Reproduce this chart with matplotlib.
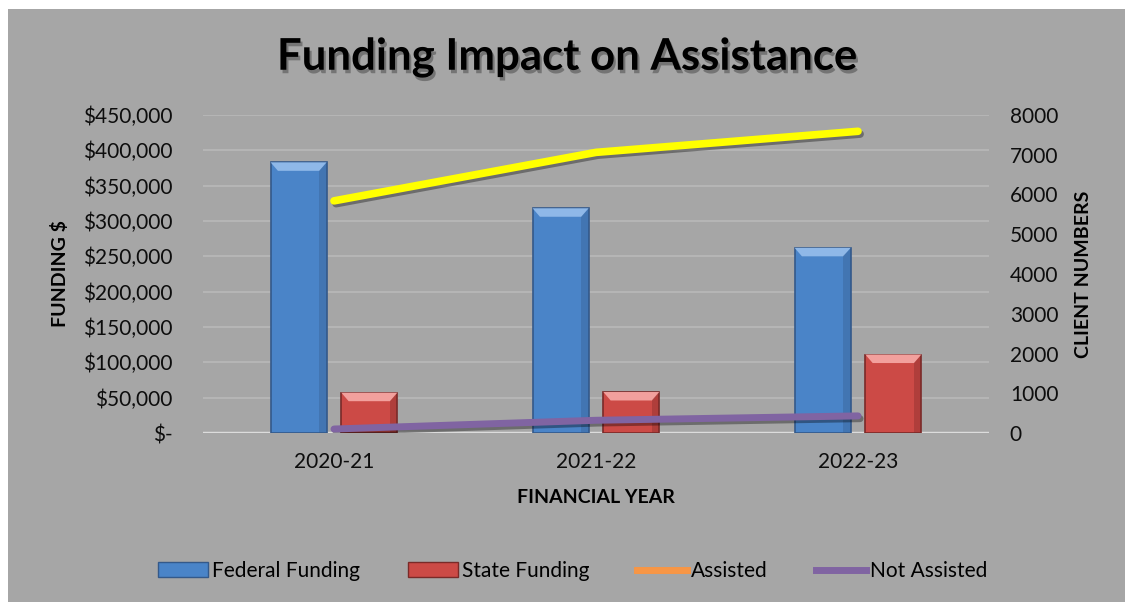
import numpy as np
import matplotlib
matplotlib.use("Agg")
import matplotlib.pyplot as plt
from matplotlib.patches import Rectangle, Polygon
from matplotlib.lines import Line2D
from matplotlib.ticker import FuncFormatter
import matplotlib.patheffects as pe

plt.rcParams['font.family'] = ['Lato', 'DejaVu Sans']

years = ["2020-21", "2021-22", "2022-23"]
federal = [383000, 318000, 262000]
state = [57000, 58000, 111000]
assisted = [5840, 7060, 7590]
not_assisted = [100, 320, 430]

BG = "#a6a6a6"
fed_c, fed_top, fed_edge = "#4a84c8", "#8fb8e8", "#34598a"
st_c, st_top, st_edge = "#cc4a46", "#f2a09d", "#7a2a28"

fig = plt.figure(figsize=(11.25, 6.02), dpi=100)
fig.patch.set_facecolor("white")
fig.patches.append(Rectangle((8/1125, 0), 1 - 8/1125, 1 - 9/602, transform=fig.transFigure,
                             facecolor=BG, edgecolor="none", zorder=-10))

ax = fig.add_axes([203/1125, 1 - 433/602, (989 - 203)/1125, (433 - 115)/602])
ax.set_facecolor(BG)
ax.patch.set_alpha(0)
ax2 = ax.twinx()

x = np.arange(len(years))
w = 0.214
off = 0.135
ax.set_xlim(-0.5, 2.5)
ax.set_ylim(0, 450000)
ax2.set_ylim(0, 8000)

for yv in np.arange(50000, 450001, 50000):
    ax.axhline(yv, color="#b9b9b9", lw=1.2, zorder=0)
ax.axhline(0, color="#dcdcdc", lw=2.5, zorder=1)

bev_x = 0.028
bev_y = 12000

def bevel_bars(xs, vals, c, ctop, cedge):
    bars = ax.bar(xs, vals, width=w, color=c, edgecolor=cedge, linewidth=1.2, zorder=2)
    for b in bars:
        x0, x1 = b.get_x(), b.get_x() + b.get_width()
        h = b.get_height()
        top = Polygon([(x0, h), (x1, h), (x1 - bev_x, h - bev_y), (x0 + bev_x, h - bev_y)],
                      closed=True, facecolor=ctop, edgecolor="none", zorder=3)
        ax.add_patch(top)
        side = Polygon([(x1, h), (x1, 0), (x1 - bev_x, 0), (x1 - bev_x, h - bev_y)],
                       closed=True, facecolor=cedge, alpha=0.35, edgecolor="none", zorder=3)
        ax.add_patch(side)
    return bars

bevel_bars(x - off, federal, fed_c, fed_top, fed_edge)
bevel_bars(x + off, state, st_c, st_top, st_edge)

shadow = [pe.SimpleLineShadow(offset=(1.5, -2), alpha=0.35), pe.Normal()]
ax2.plot(x, assisted, color="#ffff00", lw=5.5, solid_capstyle="round", zorder=5, path_effects=shadow)
ax2.plot(x, not_assisted, color="#8064a2", lw=5, solid_capstyle="round", zorder=5, path_effects=shadow)

def money(v, pos):
    if v == 0:
        return "$-"
    return "${:,.0f}".format(v)

ax.set_yticks(np.arange(0, 450001, 50000))
ax.yaxis.set_major_formatter(FuncFormatter(money))
ax2.set_yticks(np.arange(0, 8001, 1000))
ax.set_xticks(x)
ax.set_xticklabels(years)

for a in (ax, ax2):
    for s in a.spines.values():
        s.set_visible(False)
    a.tick_params(length=0, labelsize=15, colors="#0d0d0d")
ax.tick_params(axis="y", pad=22)
ax2.tick_params(axis="y", pad=15)
ax.tick_params(axis="x", pad=14)

ax.set_ylabel("FUNDING $", fontsize=14, fontweight="bold", labelpad=10)
ax2.set_ylabel("CLIENT NUMBERS", fontsize=14, fontweight="bold", labelpad=12)
ax.set_xlabel("FINANCIAL YEAR", fontsize=14, fontweight="bold", labelpad=12)

fig.text(0.504, 1 - 57/602, "Funding Impact on Assistance", ha="center", va="center",
         fontsize=31.5, fontweight="bold", color="black",
         path_effects=[pe.withSimplePatchShadow(offset=(1.5, -2.5), shadow_rgbFace="#444444", alpha=0.5)])

handles = [
    Rectangle((0, 0), 1, 1, facecolor=fed_c, edgecolor=fed_edge),
    Rectangle((0, 0), 1, 1, facecolor=st_c, edgecolor=st_edge),
    Line2D([0], [0], color="#f79646", lw=5),
    Line2D([0], [0], color="#8064a2", lw=5),
]
labels = ["Federal Funding", "State Funding", "Assisted", "Not Assisted"]
leg = fig.legend(handles, labels, loc="center", bbox_to_anchor=(0.509, 1 - 571/602), ncol=4,
                 frameon=False, fontsize=15, handlelength=2.4, handletextpad=0.2,
                 columnspacing=2.3)

fig.savefig("out.png", dpi=100, facecolor=fig.get_facecolor())
